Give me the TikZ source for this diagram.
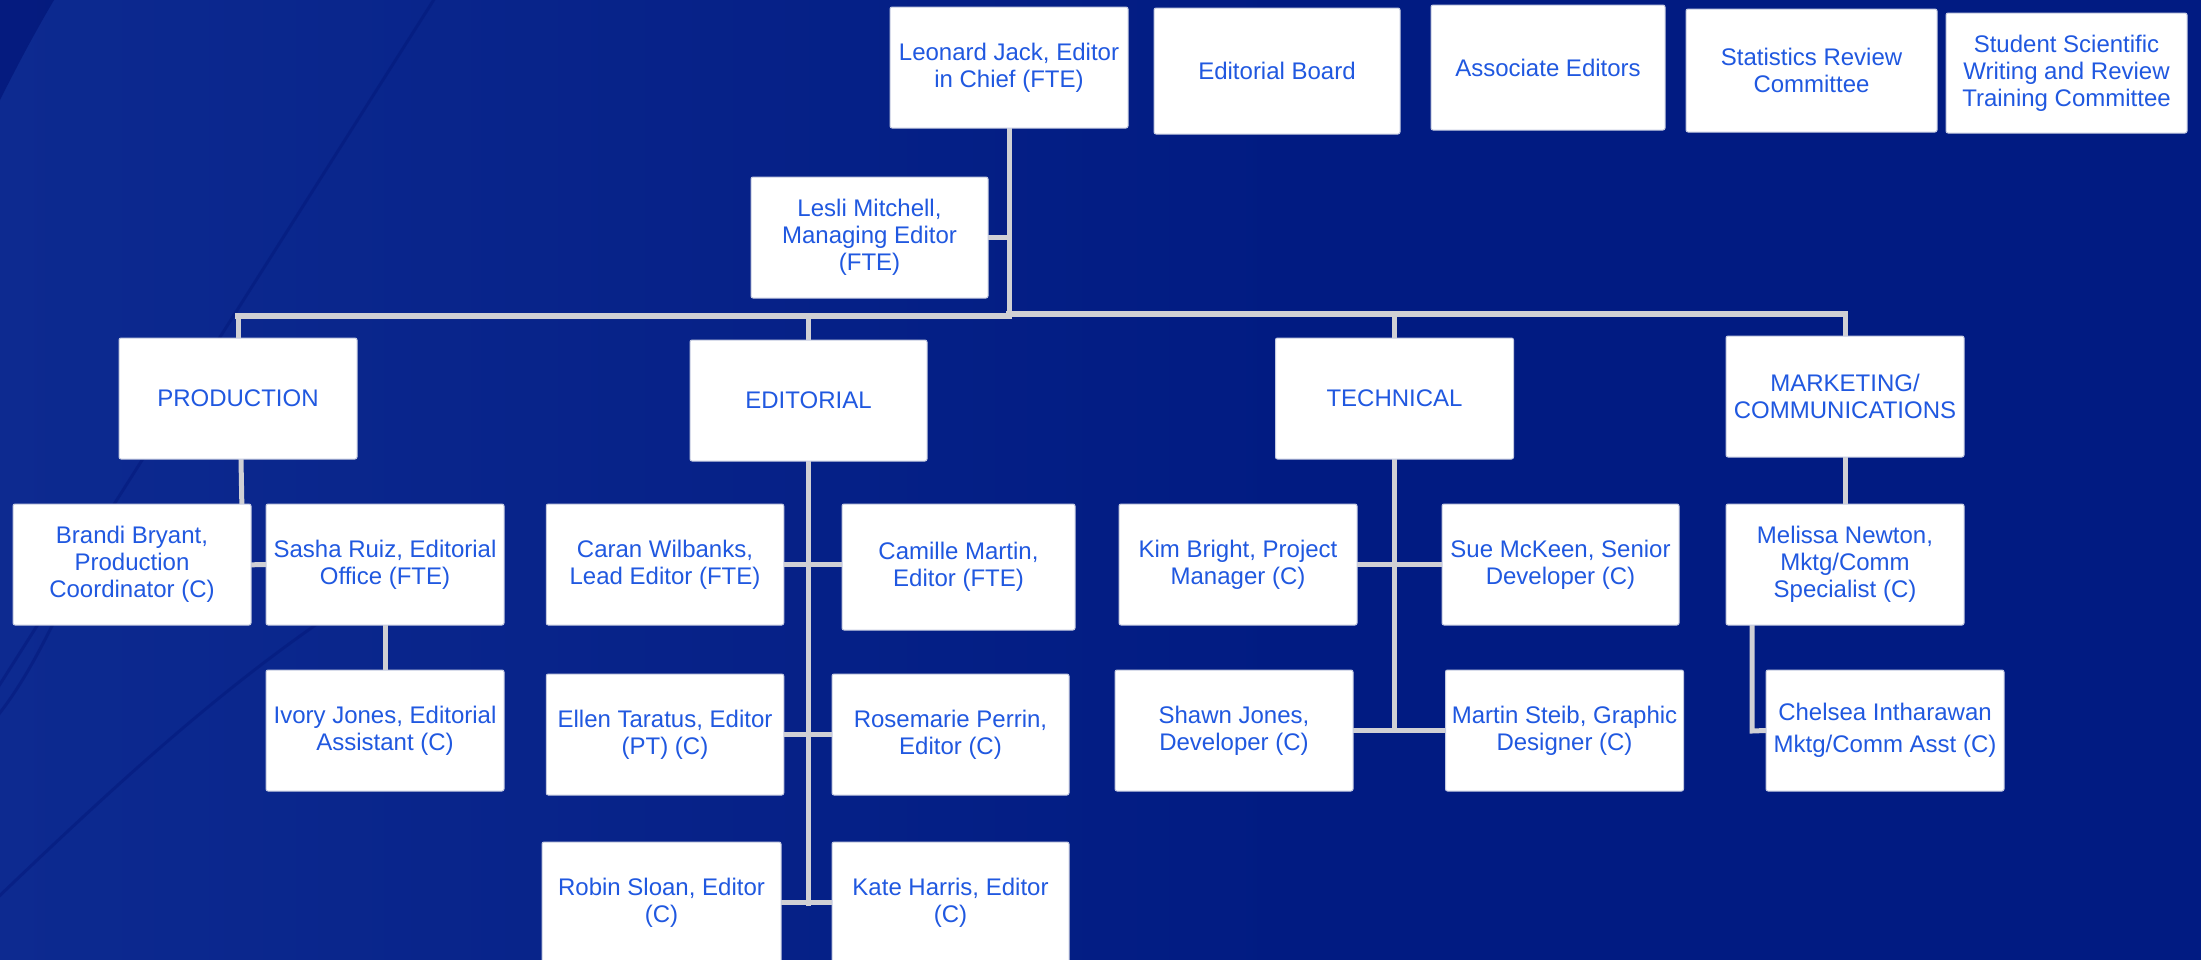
\documentclass[tikz,border=0pt]{standalone}
\usepackage{fontspec}
\setmainfont{Liberation Sans}
\pgfdeclarelayer{back}
\pgfdeclarelayer{lines}
\pgfsetlayers{back,lines,main}
\definecolor{bgblue}{RGB}{1,27,130}
\definecolor{bglight}{RGB}{13,42,144}
\definecolor{bgdark}{RGB}{2,22,120}
\definecolor{linegray}{RGB}{208,208,212}
\definecolor{boxedge}{RGB}{196,202,224}
\definecolor{txtblue}{RGB}{32,88,224}
\begin{document}
\begin{tikzpicture}[x=1pt,y=-1pt,
  box/.style={draw=boxedge, line width=1pt, fill=white, rounded corners=2pt,
    text=txtblue, align=center, inner sep=0pt,
    font=\fontsize{24}{27}\selectfont,
    minimum width=238pt, minimum height=121pt},
  conn/.style={draw=linegray, line width=5pt, line cap=rect},
  bus/.style={draw=linegray, line width=6pt, line cap=rect},
  streak/.style={draw=bgdark, line width=3pt, opacity=0.45}]
\useasboundingbox (0,0) rectangle (2201,959);
\begin{pgfonlayer}{back}
  \fill[bgblue] (-10,-10) rectangle (2211,969);
  \shade[left color=bglight, right color=bgblue] (-10,-10) rectangle (1300,969);
  \fill[bgdark, opacity=0.7] (-10,-10) -- (60,-10) .. controls (30,40) and (10,80) .. (-10,120) -- cycle;
  \draw[streak] (440,-10) -- (-10,700);
  \draw[streak] (-10,905) .. controls (120,780) and (220,690) .. (330,615);
  \draw[streak] (-10,725) .. controls (20,690) and (40,650) .. (60,610);
\end{pgfonlayer}

% top row
\node[box] (L) at (1009,67.5) {Leonard Jack, Editor\\in Chief (FTE)};
\node[box, minimum width=246pt, minimum height=126pt] (EB) at (1277,71) {Editorial Board};
\node[box, minimum width=234pt, minimum height=125pt] (AE) at (1548,67.5) {Associate Editors};
\node[box, minimum width=251pt, minimum height=123pt] (SR) at (1811.5,70.5) {Statistics Review\\Committee};
\node[box, minimum width=241pt, minimum height=120pt] (SS) at (2066.5,73) {Student Scientific\\Writing and Review\\Training Committee};
\node[box, minimum width=237pt] (LM) at (869.5,237.5) {Lesli Mitchell,\\Managing Editor\\(FTE)};

% departments
\node[box] (PROD) at (238,398.5) {PRODUCTION};
\node[box, minimum width=237pt] (EDIT) at (808.5,400.5) {EDITORIAL};
\node[box] (TECH) at (1394.5,398.5) {TECHNICAL};
\node[box] (MKT) at (1845,396.5) {MARKETING/\\COMMUNICATIONS};

% production
\node[box] (BB) at (132,564.5) {Brandi Bryant,\\Production\\Coordinator (C)};
\node[box] (SR2) at (385,564.5) {Sasha Ruiz, Editorial\\Office (FTE)};
\node[box] (IJ) at (385,730.5) {Ivory Jones, Editorial\\Assistant (C)};

% editorial
\node[box, minimum width=237.5pt] (CW) at (665,564.5) {Caran Wilbanks,\\Lead Editor (FTE)};
\node[box, minimum width=233pt, minimum height=126pt] (CM) at (958.5,567) {Camille Martin,\\Editor (FTE)};
\node[box, minimum width=237.5pt] (ET) at (665,734.5) {Ellen Taratus, Editor\\(PT) (C)};
\node[box, minimum width=237pt] (RP) at (950.5,734.5) {Rosemarie Perrin,\\Editor (C)};
\node[box, minimum width=239pt] (RS) at (661.5,902.5) {Robin Sloan, Editor\\(C)};
\node[box, minimum width=237pt] (KH) at (950.5,902.5) {Kate Harris, Editor\\(C)};

% technical
\node[box] (KB) at (1238,564.5) {Kim Bright, Project\\Manager (C)};
\node[box, minimum width=237pt] (SM) at (1560.5,564.5) {Sue McKeen, Senior\\Developer (C)};
\node[box] (SJ) at (1234,730.5) {Shawn Jones,\\Developer (C)};
\node[box] (MS) at (1564.5,730.5) {Martin Steib, Graphic\\Designer (C)};

% marketing
\node[box] (MN) at (1845,564.5) {Melissa Newton,\\Mktg/Comm\\Specialist (C)};
\node[box] (CI) at (1885,730.5) {Chelsea Intharawan\\[5pt]Mktg/Comm Asst (C)};

% junctions
\coordinate (bl) at (238,316);
\coordinate (be) at (808.5,316);
\coordinate (bm) at (1009,316);
\coordinate (bt) at (1394.5,314);
\coordinate (bk) at (1845,314);
\coordinate (pj) at (243,565);
\coordinate (ee) at (808.5,903);
\coordinate (te) at (1394.5,730.5);
\coordinate (mj) at (1752,731);

\begin{pgfonlayer}{lines}
  \draw[conn] (L.south) -- (bm);
  \draw[conn] (LM.east) -- (LM.east -| bm);
  \draw[bus] (bl) -- (bm) -- (bm |- bt) -- (bk);
  \draw[conn] (bl) -- (PROD.north);
  \draw[conn] (be) -- (EDIT.north);
  \draw[conn] (bt) -- (TECH.north);
  \draw[conn] (bk) -- (MKT.north);
  % production
  \draw[conn] ([xshift=3pt]PROD.south) -- (pj) -- (SR2.west);
  \draw[conn] (SR2.south) -- (IJ.north);
  % editorial
  \draw[conn] (EDIT.south) -- (ee);
  \draw[conn] (CW.east) -- (CW.east -| CM.west);
  \draw[conn] (ET.east) -- (RP.west);
  \draw[conn] (RS.east) -- (KH.west);
  % technical
  \draw[conn] (TECH.south) -- (te);
  \draw[conn] (KB.east) -- (SM.west);
  \draw[conn] (SJ.east) -- (MS.west);
  % marketing
  \draw[conn] (MKT.south) -- (MN.north);
  \draw[conn] (MN.south -| mj) -- (mj) -- (CI.west);
\end{pgfonlayer}
\end{tikzpicture}
\end{document}
